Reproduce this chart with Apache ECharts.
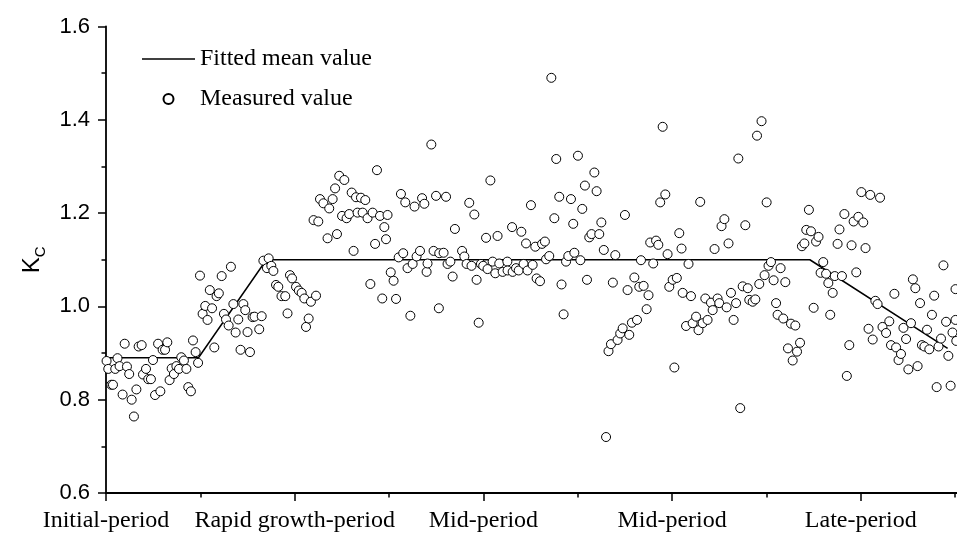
<!DOCTYPE html>
<html>
<head>
<meta charset="utf-8">
<script src="https://cdn.jsdelivr.net/npm/echarts@6/dist/echarts.min.js"></script>
<style>
  html, body { margin: 0; padding: 0; background: #fff; }
  #chart { width: 957px; height: 534px; }
</style>
</head>
<body>
<div id="chart"></div>
<script>
// Growth stages marked on the horizontal axis (one unit per stage)
const periodLabels = ['Initial-period', 'Rapid growth-period', 'Mid-period', 'Mid-period', 'Late-period'];

// Kc axis range and step
const kcMin = 0.6;
const kcMax = 1.6;
const kcStep = 0.2;

// Piecewise fitted mean crop coefficient: [stage position, Kc]
const fittedMean = [
  [0, 0.89], [0.49, 0.89], [0.85, 1.10], [3.73, 1.10], [4.46, 0.91]
];

// Measured crop coefficient: [stage position, Kc]
const measured = [
  [0.003,0.883],[0.012,0.866],[0.028,0.832],[0.037,0.832],[0.049,0.866],[0.061,0.889],[0.072,0.872],[0.088,0.811],[0.099,0.920],[0.111,0.871],
  [0.123,0.855],[0.136,0.800],[0.148,0.764],[0.161,0.822],[0.173,0.914],[0.189,0.917],[0.196,0.854],[0.212,0.866],[0.224,0.844],[0.238,0.844],
  [0.249,0.885],[0.260,0.810],[0.276,0.920],[0.288,0.818],[0.300,0.907],[0.313,0.907],[0.325,0.923],[0.337,0.842],[0.348,0.867],[0.360,0.855],
  [0.373,0.872],[0.387,0.866],[0.399,0.891],[0.413,0.884],[0.426,0.866],[0.436,0.827],[0.450,0.818],[0.461,0.927],[0.475,0.902],[0.488,0.879],
  [0.498,1.066],[0.512,0.984],[0.526,1.001],[0.538,0.971],[0.550,1.035],[0.562,0.996],[0.574,0.912],[0.586,1.022],[0.598,1.028],[0.613,1.065],
  [0.625,0.984],[0.636,0.972],[0.650,0.959],[0.662,1.085],[0.675,1.005],[0.687,0.944],[0.701,0.972],[0.713,0.907],[0.728,1.005],[0.738,0.992],
  [0.750,0.945],[0.763,0.902],[0.777,0.977],[0.787,0.978],[0.812,0.951],[0.825,0.979],[0.834,1.098],[0.853,1.082],[0.862,1.103],[0.876,1.087],
  [0.887,1.076],[0.901,1.046],[0.913,1.042],[0.930,1.022],[0.950,1.022],[0.962,0.985],[0.975,1.067],[0.986,1.060],[1.007,1.042],[1.022,1.034],
  [1.037,1.029],[1.051,1.017],[1.060,0.956],[1.074,0.974],[1.086,1.010],[1.100,1.185],[1.113,1.023],[1.125,1.182],[1.134,1.230],[1.152,1.221],
  [1.174,1.146],[1.183,1.210],[1.201,1.230],[1.214,1.253],[1.224,1.155],[1.236,1.280],[1.251,1.194],[1.263,1.271],[1.275,1.189],[1.289,1.198],
  [1.302,1.244],[1.312,1.119],[1.325,1.234],[1.333,1.201],[1.351,1.233],[1.360,1.201],[1.374,1.228],[1.386,1.189],[1.401,1.048],[1.413,1.201],
  [1.426,1.134],[1.436,1.292],[1.452,1.194],[1.464,1.017],[1.475,1.170],[1.484,1.144],[1.492,1.196],[1.509,1.073],[1.524,1.055],[1.537,1.016],
  [1.551,1.105],[1.563,1.241],[1.575,1.114],[1.586,1.223],[1.598,1.082],[1.613,0.980],[1.625,1.091],[1.635,1.214],[1.646,1.107],[1.664,1.119],
  [1.675,1.232],[1.687,1.220],[1.699,1.074],[1.704,1.092],[1.724,1.347],[1.736,1.119],[1.749,1.237],[1.764,0.996],[1.766,1.114],[1.789,1.115],
  [1.802,1.235],[1.810,1.091],[1.825,1.096],[1.837,1.064],[1.849,1.166],[1.887,1.119],[1.899,1.107],[1.911,1.091],[1.925,1.222],[1.937,1.087],
  [1.952,1.197],[1.964,1.057],[1.975,0.965],[1.987,1.091],[1.999,1.087],[2.014,1.147],[2.022,1.080],[2.037,1.270],[2.049,1.096],[2.063,1.071],
  [2.075,1.151],[2.084,1.092],[2.102,1.074],[2.127,1.096],[2.128,1.077],[2.152,1.170],[2.155,1.074],[2.173,1.082],[2.187,1.077],[2.201,1.160],
  [2.213,1.091],[2.226,1.135],[2.234,1.077],[2.252,1.217],[2.261,1.089],[2.275,1.128],[2.282,1.060],[2.300,1.054],[2.311,1.134],[2.326,1.139],
  [2.332,1.101],[2.349,1.108],[2.360,1.490],[2.376,1.189],[2.386,1.316],[2.402,1.235],[2.414,1.047],[2.425,0.983],[2.438,1.096],[2.450,1.108],
  [2.464,1.230],[2.476,1.177],[2.482,1.115],[2.501,1.323],[2.514,1.099],[2.524,1.209],[2.538,1.259],[2.549,1.057],[2.561,1.148],[2.573,1.155],
  [2.588,1.287],[2.600,1.247],[2.614,1.155],[2.625,1.180],[2.638,1.121],[2.650,0.720],[2.663,0.904],[2.676,0.919],[2.686,1.051],[2.699,1.110],
  [2.711,0.928],[2.725,0.942],[2.738,0.953],[2.750,1.196],[2.764,1.035],[2.773,0.939],[2.787,0.965],[2.800,1.062],[2.814,0.971],[2.826,1.042],
  [2.835,1.099],[2.849,1.044],[2.865,0.994],[2.875,1.024],[2.884,1.137],[2.900,1.092],[2.915,1.141],[2.927,1.132],[2.937,1.223],[2.950,1.385],
  [2.964,1.240],[2.976,1.112],[2.985,1.042],[3.003,1.057],[3.012,0.869],[3.025,1.061],[3.038,1.157],[3.050,1.124],[3.056,1.029],[3.074,0.958],
  [3.087,1.091],[3.100,1.022],[3.109,0.964],[3.127,0.978],[3.140,0.949],[3.149,1.224],[3.162,0.964],[3.176,1.017],[3.188,0.971],[3.206,1.008],
  [3.215,0.992],[3.225,1.123],[3.241,1.017],[3.250,1.007],[3.262,1.172],[3.277,1.187],[3.289,0.998],[3.299,1.135],[3.312,1.029],[3.326,0.971],
  [3.339,1.007],[3.351,1.317],[3.361,0.782],[3.374,1.043],[3.388,1.174],[3.401,1.039],[3.409,1.014],[3.427,1.010],[3.441,1.015],[3.450,1.366],
  [3.462,1.048],[3.474,1.397],[3.490,1.067],[3.501,1.223],[3.511,1.087],[3.524,1.095],[3.538,1.056],[3.551,1.007],[3.559,0.982],[3.575,1.082],
  [3.589,0.974],[3.600,1.052],[3.614,0.910],[3.630,0.963],[3.639,0.884],[3.653,0.959],[3.662,0.903],[3.678,0.922],[3.688,1.129],[3.701,1.135],
  [3.711,1.164],[3.725,1.207],[3.736,1.161],[3.750,0.997],[3.763,1.139],[3.776,1.149],[3.787,1.072],[3.801,1.095],[3.816,1.070],[3.828,1.050],
  [3.838,0.982],[3.851,1.029],[3.862,1.065],[3.877,1.134],[3.887,1.165],[3.900,1.065],[3.913,1.198],[3.926,0.851],[3.939,0.917],[3.951,1.131],
  [3.962,1.182],[3.976,1.073],[3.987,1.192],[4.003,1.245],[4.013,1.180],[4.025,1.125],[4.041,0.952],[4.050,1.239],[4.063,0.929],[4.077,1.012],
  [4.089,1.005],[4.102,1.233],[4.115,0.956],[4.134,0.943],[4.151,0.968],[4.160,0.917],[4.178,1.027],[4.187,0.912],[4.200,0.885],[4.213,0.898],
  [4.226,0.954],[4.240,0.930],[4.252,0.865],[4.266,0.964],[4.276,1.058],[4.289,1.039],[4.301,0.872],[4.314,1.007],[4.324,0.917],[4.337,0.914],
  [4.351,0.950],[4.363,0.908],[4.377,0.982],[4.389,1.023],[4.402,0.827],[4.412,0.914],[4.425,0.931],[4.438,1.088],[4.452,0.967],[4.464,0.894],
  [4.476,0.830],[4.486,0.944],[4.502,1.037],[4.502,0.971],[4.506,0.926]
];

const chart = echarts.init(document.getElementById('chart'), null, { renderer: 'canvas' });

const axisColor = '#000';

chart.setOption({
  animation: false,
  backgroundColor: '#fff',
  // the plot runs on past the right edge of the page
  grid: { left: 106, top: 26.5, height: 466.5, width: 943.5, containLabel: false, outerBoundsMode: 'none' },
  legend: {
    orient: 'vertical',
    left: 142,
    top: 47,
    padding: 0,
    itemWidth: 53,
    itemHeight: 10,
    itemGap: 16,
    selectedMode: false,
    textStyle: { fontFamily: 'Liberation Serif', fontSize: 24, color: '#000' },
    data: [
      { name: 'Fitted mean value', icon: 'path://M0,0H53V1.5H0Z', itemStyle: { color: '#000', borderWidth: 0 } },
      { name: 'Measured value', icon: 'circle' }
    ]
  },
  xAxis: {
    type: 'value',
    min: 0,
    max: 5,
    interval: 1,
    axisLine: { show: true, lineStyle: { color: axisColor, width: 1.8 } },
    axisTick: { show: true, length: 8, lineStyle: { color: axisColor, width: 1.5 } },
    minorTick: { show: true, splitNumber: 2, length: 4.5, lineStyle: { color: axisColor, width: 1.5 } },
    splitLine: { show: false },
    axisLabel: {
      formatter: v => periodLabels[Math.round(v)] || '',
      fontFamily: 'Liberation Serif',
      fontSize: 24,
      color: '#000',
      margin: 16,
      showMaxLabel: false
    }
  },
  yAxis: {
    type: 'value',
    min: kcMin,
    max: kcMax,
    interval: kcStep,
    name: '{k|K}{c|C}',
    nameLocation: 'middle',
    nameRotate: 90,
    nameGap: 60,
    nameTextStyle: {
      rich: {
        k: { fontFamily: 'Liberation Sans', fontSize: 24, color: '#000', lineHeight: 26, verticalAlign: 'top' },
        c: { fontFamily: 'Liberation Sans', fontSize: 15, color: '#000', lineHeight: 15, padding: [13, 0, 0, 0], verticalAlign: 'top' }
      }
    },
    axisLine: { show: true, lineStyle: { color: axisColor, width: 1.8 } },
    axisTick: { show: true, length: 8, lineStyle: { color: axisColor, width: 1.5 } },
    minorTick: { show: true, splitNumber: 2, length: 4.5, lineStyle: { color: axisColor, width: 1.5 } },
    splitLine: { show: false },
    axisLabel: {
      formatter: v => v.toFixed(1),
      fontFamily: 'Liberation Sans',
      fontSize: 22,
      color: '#000',
      margin: 16
    }
  },
  series: [
    {
      name: 'Fitted mean value',
      type: 'line',
      data: fittedMean,
      symbol: 'none',
      lineStyle: { color: '#000', width: 1.5 },
      itemStyle: { color: '#000' },
      z: 2
    },
    {
      name: 'Measured value',
      type: 'scatter',
      data: measured,
      symbol: 'circle',
      symbolSize: 9,
      itemStyle: { color: '#fff', borderColor: '#000', borderWidth: 1, opacity: 1 },
      z: 3
    }
  ]
});
</script>
</body>
</html>
